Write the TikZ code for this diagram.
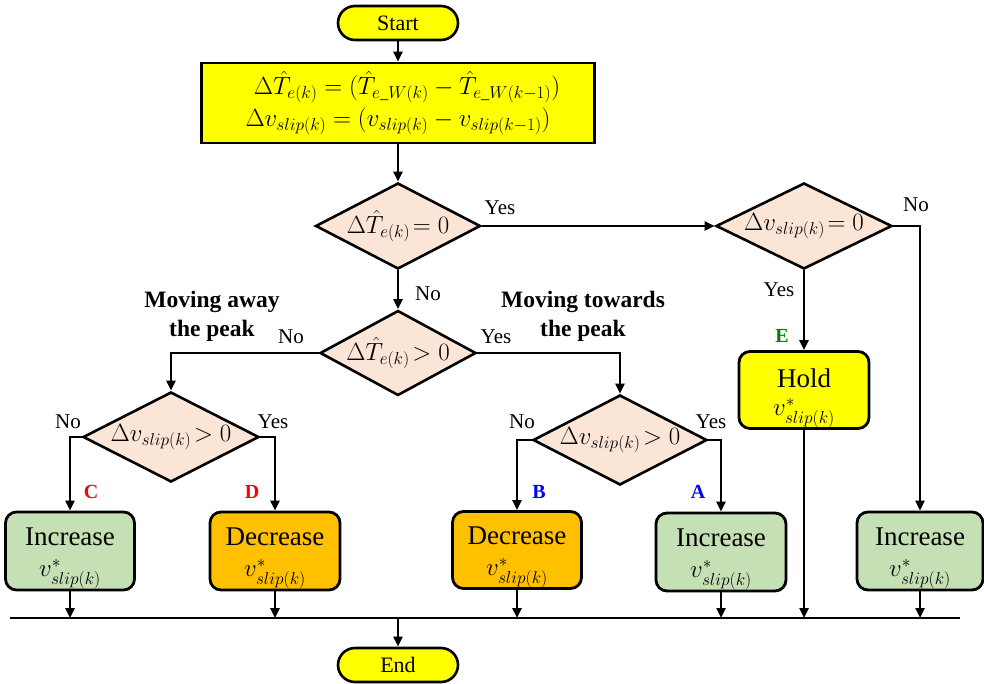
\documentclass[tikz,border=0pt]{standalone}
\usepackage{amsmath}
\usepackage{fontspec}
\setmainfont{Liberation Serif}
\usetikzlibrary{shapes.geometric,arrows.meta}
\definecolor{peach}{HTML}{FBE5D6}
\definecolor{leaf}{HTML}{C5E0B4}
\definecolor{amber}{HTML}{FFC000}
\definecolor{lemon}{HTML}{FFFF00}
\definecolor{tagred}{HTML}{FF0000}
\definecolor{tagblue}{HTML}{0000FF}
\definecolor{taggreen}{HTML}{008000}
\newcommand{\vstar}{$v^{*}_{slip(k)}$}
\newcommand{\us}{\text{\_}}
\begin{document}
\begin{tikzpicture}[x=1pt,y=-1pt,
  conn/.style={line width=2.4pt,-{Triangle[length=10pt,width=9pt]}},
  wire/.style={line width=2.4pt},
  term/.style={draw,line width=2.6pt,fill=lemon,rounded corners=17pt,
    minimum width=120pt,minimum height=34pt,inner sep=0pt,
    font=\fontsize{22}{24}\selectfont},
  decision/.style={draw,diamond,line width=2.6pt,fill=peach,inner sep=0pt},
  condtext/.style={inner sep=0pt,font=\fontsize{23}{25}\selectfont},
  action/.style={draw,line width=2.8pt,rounded corners=11pt,
    minimum width=129pt,minimum height=78pt,align=center,inner sep=0pt,
    font=\fontsize{27}{31}\selectfont},
  lbl/.style={inner sep=0pt,font=\fontsize{21}{23}\selectfont},
  caption/.style={inner sep=0pt,align=center,
    font=\fontsize{23.5}{29}\selectfont\bfseries},
  tag/.style={inner sep=0pt,font=\fontsize{20}{22}\selectfont\bfseries},
]
\useasboundingbox (0,0) rectangle (984,684);

% terminals and the update step
\node[term] (start) at (398,23) {Start};
\node[draw,line width=2.8pt,fill=lemon,minimum width=393pt,minimum height=80pt,
      inner sep=0pt,align=center,font=\fontsize{23.5}{32}\selectfont] (calc) at (398,103)
  {\hspace*{18pt}$\Delta\hat{T}_{e(k)} = (\hat{T}_{e\us W(k)} - \hat{T}_{e\us W(k-1)})$\\
   $\Delta v_{slip(k)} = (v_{slip(k)} - v_{slip(k-1)})$};

% decisions
\node[decision,minimum width=165pt,minimum height=86pt] (d1) at (398,226) {};
\node[condtext] (d1t) at (d1.center) {$\Delta\hat{T}_{e(k)}\!= 0$};
\node[decision,minimum width=176pt,minimum height=86pt] (d2) at (804,226) {};
\node[condtext] (d2t) at (d2.center) {$\Delta v_{slip(k)}\!= 0$};
\node[decision,minimum width=156pt,minimum height=85pt] (d3) at (398,353) {};
\node[condtext] (d3t) at (d3.center) {$\Delta\hat{T}_{e(k)}\!> 0$};
\node[decision,minimum width=176pt,minimum height=90pt] (d4) at (171,437) {};
\node[condtext] (d4t) at (d4.center) {$\Delta v_{slip(k)}\!> 0$};
\node[decision,minimum width=174pt,minimum height=90pt] (d5) at (620,440) {};
\node[condtext] (d5t) at (d5.center) {$\Delta v_{slip(k)}\!> 0$};

% actions (the strut lowers the two text lines inside each box)
\node[action,fill=lemon,minimum width=130pt,minimum height=77pt] (hold) at (804,390)
  {\rule{0pt}{36pt}Hold\\[-3pt]\vstar};
\node[action,fill=leaf] (inc1) at (70,551) {\rule{0pt}{32pt}Increase\\\vstar};
\node[action,fill=amber,minimum width=130pt] (dec1) at (275,551) {\rule{0pt}{32pt}Decrease\\\vstar};
\node[action,fill=amber,minimum height=77pt] (dec2) at (517,550) {\rule{0pt}{32pt}Decrease\\\vstar};
\node[action,fill=leaf,minimum width=130pt] (inc2) at (721,552) {\rule{0pt}{32pt}Increase\\\vstar};
\node[action,fill=leaf,minimum width=126pt] (inc3) at (920,551) {\rule{0pt}{32pt}Increase\\\vstar};

\node[term] (end) at (398,665) {End};

% collecting bus
\coordinate (busL) at (10,618);
\coordinate (busR) at (960,618);
\coordinate (busM) at (398,618);
\draw[wire] (busL) -- (busR);

% connectors
\draw[conn] (start) -- (calc);
\draw[conn] (calc.south) -- (d1.north);
\draw[conn] (d1.east) -- (d2.west);
\draw[conn] (d2.east) -| (inc3.north);
\draw[conn] (d2.south) -- (hold.north);
\draw[conn] (d1.south) -- (d3.north);
\draw[conn] (d3.west) -| (d4.north);
\draw[conn] (d3.east) -| (d5.north);
\draw[conn] (d4.west) -| (inc1.north);
\draw[conn] (d4.east) -| (dec1.north);
\draw[conn] (d5.west) -| (dec2.north);
\draw[conn] (d5.east) -| (inc2.north);
\foreach \b in {inc1,dec1,dec2,inc2,inc3,hold}
  \draw[conn] (\b.south) -- (\b.south |- busL);
\draw[conn] (busM) -- (end.north);

% branch labels
\node[lbl] (y1) at (500,208) {Yes};
\node[lbl] (n2) at (916,205) {No};
\node[lbl] (y2) at (779,290) {Yes};
\node[lbl] (n1) at (428,294) {No};
\node[lbl] (n3) at (291,337) {No};
\node[lbl] (y3) at (496,337) {Yes};
\node[lbl] (n4) at (68,422) {No};
\node[lbl] (y4) at (273,422) {Yes};
\node[lbl] (n5) at (522,422) {No};
\node[lbl] (y5) at (711,422) {Yes};

\node[caption] (away) at (212,316) {Moving away\\the peak};
\node[caption] (towards) at (583,316) {Moving towards\\the peak};

\node[tag,text=taggreen] (tE) at (782,336) {E};
\node[tag,text=tagred] (tC) at (91,492) {C};
\node[tag,text=tagred] (tD) at (252,492) {D};
\node[tag,text=tagblue] (tB) at (539,492) {B};
\node[tag,text=tagblue] (tA) at (698,492) {A};
\end{tikzpicture}
\end{document}
